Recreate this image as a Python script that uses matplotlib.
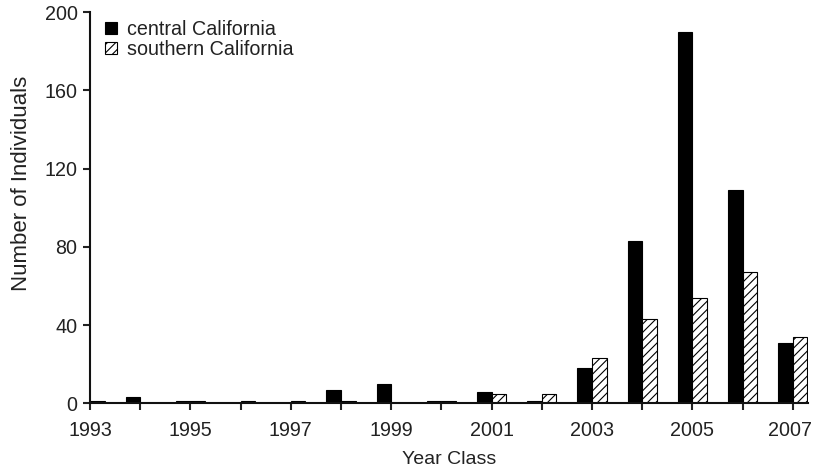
import matplotlib
matplotlib.use("Agg")
import matplotlib.pyplot as plt
import matplotlib.transforms as mtransforms
import numpy as np

years = list(range(1993, 2008))
central = [0, 3, 1, 0, 0, 7, 10, 1, 6, 1, 18, 83, 190, 109, 31]
southern = [1, 0, 1, 1, 1, 1, 0, 1, 5, 5, 23, 43, 54, 67, 34]
series_labels = ["central California", "southern California"]
y_ticks = [0, 40, 80, 120, 160, 200]

plt.rcParams['font.family'] = ['Liberation Sans', 'DejaVu Sans']
plt.rcParams['hatch.linewidth'] = 0.8

W, H = 813, 469
fig = plt.figure(figsize=(W / 100, H / 100), dpi=100)
left, right, top, bottom = 90, 808, 12, 403.3
ax = fig.add_axes([left / W, (H - bottom) / H, (right - left) / W, (bottom - top) / H])

w = 0.29
x = np.array(years, dtype=float)
ax.bar(x - w / 2, central, width=w, color='black', edgecolor='black', linewidth=0.8,
       label=series_labels[0])
ax.bar(x + w / 2, southern, width=w, color='white', edgecolor='black', linewidth=0.8,
       hatch='////', label=series_labels[1])

ax.set_xlim(1993, 1993 + (right - left) / 50.2)
ax.set_ylim(0, 200)
ax.set_yticks(y_ticks)
ax.set_xticks(years)
ax.set_xticklabels([str(y) if (y - 1993) % 2 == 0 else '' for y in years])
ax.tick_params(axis='both', labelsize=14.2, direction='out', length=5, width=1.5, colors='#222222')
ax.tick_params(axis='y', pad=4)
ax.tick_params(axis='x', pad=8)
for s in ['top', 'right']:
    ax.spines[s].set_visible(False)
for s in ['left', 'bottom']:
    ax.spines[s].set_linewidth(1.5)
    ax.spines[s].set_color('#111111')

# nudge the last tick label so it stays inside the canvas
last = ax.get_xticklabels()[-1]
last.set_transform(last.get_transform() + mtransforms.ScaledTranslation(-3 / 100, 0, fig.dpi_scale_trans))

ax.set_xlabel('Year Class', fontsize=14, color='#222222', labelpad=8)
ax.set_ylabel('Number of Individuals', fontsize=16, color='#222222', labelpad=8)
ax.yaxis.set_label_coords(-0.081, 0.562)

leg = ax.legend(loc='upper left', bbox_to_anchor=(0.01, 1.0), frameon=False, fontsize=14.2,
                handlelength=0.6, handleheight=0.6, handletextpad=0.5, labelspacing=0.05,
                borderaxespad=0.0)
for t in leg.get_texts():
    t.set_color('#222222')

fig.savefig('out.png', dpi=100)
